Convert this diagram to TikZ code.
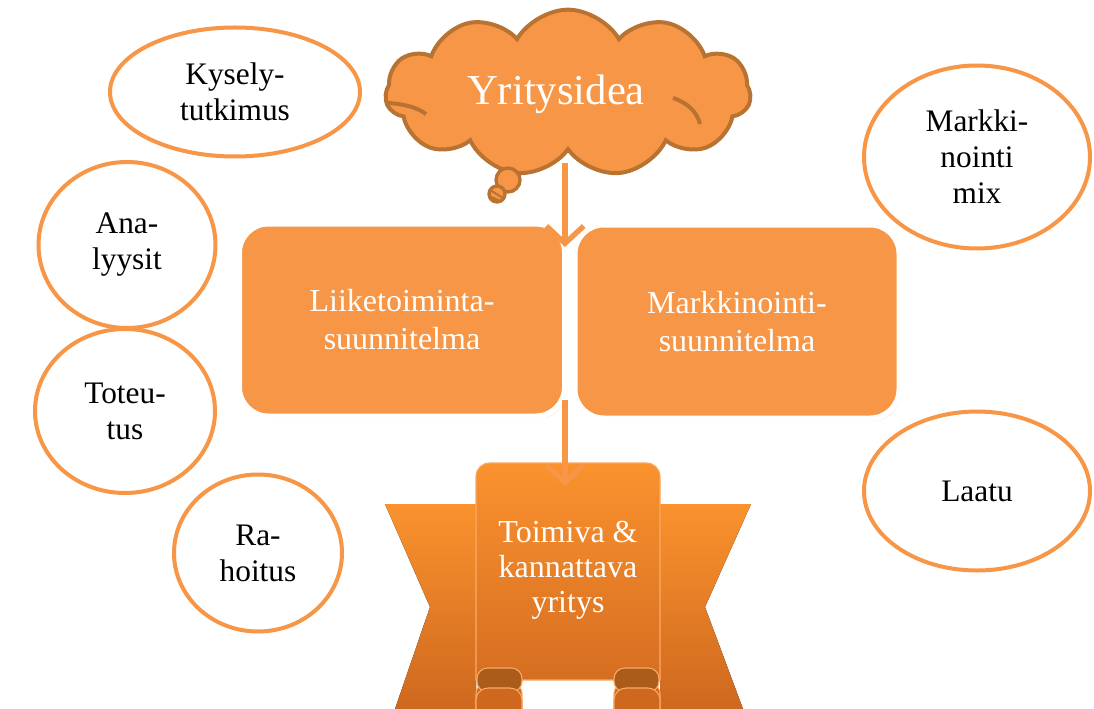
\documentclass[tikz,border=0pt]{standalone}
\usepackage{fontspec}
\setmainfont{Liberation Serif}
\usetikzlibrary{shapes.symbols,shapes.geometric,arrows.meta,shadows}
\definecolor{org}{RGB}{247,150,70}
\definecolor{cloudline}{RGB}{184,114,50}
\definecolor{ribtop}{RGB}{250,146,46}
\definecolor{ribbot}{RGB}{206,104,30}
\definecolor{ribdark}{RGB}{172,92,26}
\definecolor{ribline}{RGB}{250,170,100}
\tikzset{
  oval/.style={ellipse, draw=org, line width=3pt, fill=white, inner sep=0pt, align=center,
    font=\fontsize{23.5}{27}\selectfont, text=black},
  planbox/.style={draw=white, line width=4.5pt, fill=org, rounded corners=22pt, align=center,
    text=white, font=\fontsize{24}{28.5}\selectfont,
    drop shadow={shadow xshift=1.5pt, shadow yshift=-2pt, opacity=0.25}},
  flow/.style={draw=org, line width=4.5pt, -{Straight Barb[length=13pt,width=28pt,line width=4pt]}},
  curl/.style={fill=ribdark, draw=ribline, line width=0.8pt},
  tab/.style={fill=ribbot, draw=ribline, line width=0.8pt},
}
\begin{document}
\begin{tikzpicture}[x=0.75pt,y=-0.75pt]
\useasboundingbox (0,0) rectangle (1094,709);
\fill[white] (0,0) rectangle (1094,709);

% ellipses
\node[oval, minimum width=187.5pt, minimum height=96.75pt] (kys) at (235,92) {Kysely-\\tutkimus};
\node[oval, minimum width=132.75pt, minimum height=124.5pt] (ana) at (127,245) {Ana-\\lyysit};
\node[oval, minimum width=135pt, minimum height=123pt] (tot) at (125,411) {Toteu-\\tus};
\node[oval, minimum width=126pt, minimum height=117.75pt] (rah) at (258,553) {Ra-\\hoitus};
\node[oval, minimum width=169.5pt, minimum height=137.25pt] (mix) at (977,157) {Markki-\\nointi\\mix};
\node[oval, minimum width=169.5pt, minimum height=119.25pt] (laa) at (977,491) {Laatu};

% cloud
\node[cloud, cloud puffs=11, cloud puff arc=120, aspect=2.2, draw=cloudline, line width=3pt, fill=org,
  minimum width=274pt, minimum height=125pt] (cloud) at (568,93) {};
\draw[cloudline, line width=3pt] (388,103) .. controls (405,104) and (418,108) .. (426,114);
\draw[cloudline, line width=3pt] (673,98) .. controls (688,103) and (697,112) .. (700,124);
\node[text=white, font=\fontsize{32}{36}\selectfont] (ytext) at (556,94) {Yritysidea};
\node[circle, draw=cloudline, fill=org, line width=2.5pt, minimum size=18pt, inner sep=0pt] (b1) at (508,180) {};
\node[circle, draw=cloudline, fill=org, line width=2.5pt, minimum size=12pt, inner sep=0pt] (b2) at (497,194) {};
\draw[cloudline, line width=1.5pt] (490,190) -- (503,198) (489,196) -- (500,201);

% plan boxes
\node[planbox, minimum width=244.5pt, minimum height=144.75pt] (liik) at (402,320) {Liiketoiminta-\\suunnitelma};
\node[planbox, minimum width=243.75pt, minimum height=145.5pt] (mark) at (737,321.5) {Markkinointi-\\suunnitelma};

% ribbon
\fill[top color=ribtop, bottom color=ribbot] (385,504) -- (476,504) -- (476,709) -- (395,709) -- (430,607) -- cycle;
\fill[top color=ribtop, bottom color=ribbot] (751,504) -- (660,504) -- (660,709) -- (743,709) -- (705,607) -- cycle;
\draw[ribline, line width=0.8pt, top color=ribtop, bottom color={rgb,255:red,214;green,110;blue,34}]
  (476,672) [rounded corners=10pt] -- (476,463) -- (660,463) [sharp corners] -- (660,680) -- (476,680) -- cycle;
% curls and tabs
\draw[tab, rounded corners=7pt] (476,715) -- (476,684) -- (522,684) -- (522,715);
\draw[tab, rounded corners=7pt] (614,715) -- (614,684) -- (660,684) -- (660,715);
\draw[curl, rounded corners=8pt] (477,692) -- (477,668) -- (522,668) -- (522,692) -- cycle;
\draw[curl, rounded corners=8pt] (614,692) -- (614,668) -- (659,668) -- (659,692) -- cycle;
\draw[tab, rounded corners=9pt] (476,715) -- (476,688) -- (522,688) -- (522,715);
\draw[tab, rounded corners=9pt] (614,715) -- (614,688) -- (660,688) -- (660,715);
\node[text=white, align=center, font=\fontsize{24}{26.3}\selectfont] (rib) at (568,570) {Toimiva \&\\kannattava\\yritys};

% arrows
\coordinate (a1s) at (565,163);
\coordinate (a1e) at (565,247);
\coordinate (a2s) at (565,400);
\coordinate (a2e) at (565,486);
\draw[flow] (a1s) -- (a1e);
\draw[flow] (a2s) -- (a2e);
\end{tikzpicture}
\end{document}
